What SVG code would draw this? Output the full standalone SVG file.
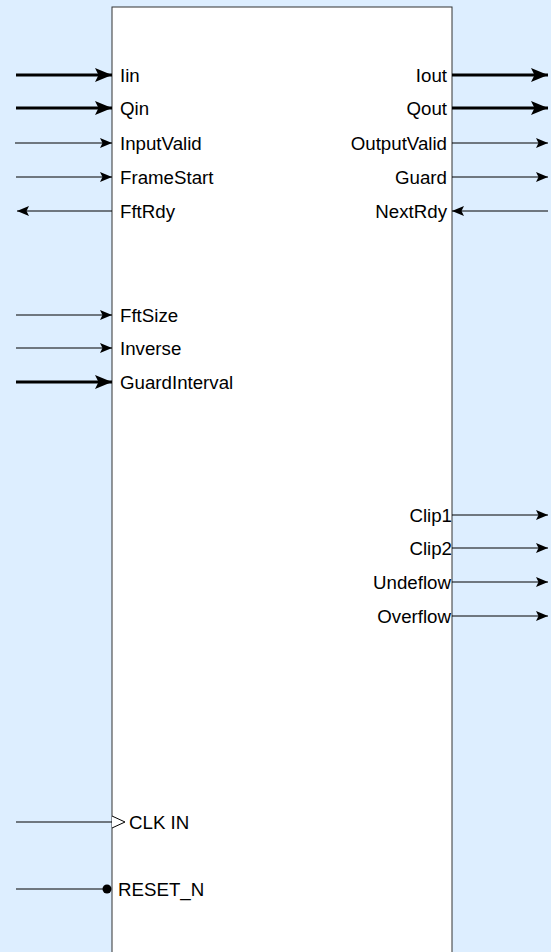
<svg xmlns="http://www.w3.org/2000/svg" width="551" height="952" viewBox="0 0 551 952">
<style>
text{font-family:"Liberation Sans",Arial,sans-serif;font-size:18.7px;fill:#000}
.r{text-anchor:end}
.thin{stroke:#000;stroke-width:1;fill:none}
.thick{stroke:#000;stroke-width:3;fill:none}
</style>
<defs>
<marker id="ah" viewBox="0 0 12 10" refX="12" refY="5" markerWidth="12" markerHeight="10" markerUnits="userSpaceOnUse" orient="auto"><path d="M0,0L12,5L0,10L2.5,5Z" fill="#000"/></marker>
<marker id="ahb" viewBox="0 0 17 14" refX="17" refY="7" markerWidth="17" markerHeight="14" markerUnits="userSpaceOnUse" orient="auto"><path d="M0,0L17,7L0,14L3.5,7Z" fill="#000"/></marker>
</defs>
<rect x="0" y="0" width="551" height="952" fill="#ddeeff"/>
<g id="block">
<rect x="112" y="7" width="340" height="960" fill="#fff" stroke="#333" stroke-width="1"/>
</g>
<g id="connectors">
<line class="thick" x1="16" y1="75" x2="112" y2="75" marker-end="url(#ahb)"/>
<line class="thick" x1="16" y1="108" x2="112" y2="108" marker-end="url(#ahb)"/>
<line class="thin" x1="15" y1="143" x2="112" y2="143" marker-end="url(#ah)"/>
<line class="thin" x1="16" y1="177" x2="112" y2="177" marker-end="url(#ah)"/>
<line class="thin" x1="112" y1="211" x2="17" y2="211" marker-end="url(#ah)"/>
<line class="thin" x1="16" y1="315" x2="112" y2="315" marker-end="url(#ah)"/>
<line class="thin" x1="16" y1="348" x2="112" y2="348" marker-end="url(#ah)"/>
<line class="thick" x1="16" y1="382" x2="112" y2="382" marker-end="url(#ahb)"/>
<line class="thin" x1="16" y1="822" x2="112" y2="822"/>
<line class="thin" x1="16" y1="889" x2="104" y2="889"/>
<line class="thick" x1="452" y1="75" x2="548" y2="75" marker-end="url(#ahb)"/>
<line class="thick" x1="452" y1="108" x2="548" y2="108" marker-end="url(#ahb)"/>
<line class="thin" x1="452" y1="143" x2="548" y2="143" marker-end="url(#ah)"/>
<line class="thin" x1="452" y1="177" x2="548" y2="177" marker-end="url(#ah)"/>
<line class="thin" x1="548" y1="211" x2="452" y2="211" marker-end="url(#ah)"/>
<line class="thin" x1="452" y1="515" x2="548" y2="515" marker-end="url(#ah)"/>
<line class="thin" x1="452" y1="548" x2="548" y2="548" marker-end="url(#ah)"/>
<line class="thin" x1="452" y1="582" x2="548" y2="582" marker-end="url(#ah)"/>
<line class="thin" x1="452" y1="616" x2="548" y2="616" marker-end="url(#ah)"/>
</g>
<g id="ports-left">
<text x="120" y="82">Iin</text>
<text x="120" y="115">Qin</text>
<text x="120" y="150">InputValid</text>
<text x="120" y="184">FrameStart</text>
<text x="120" y="218">FftRdy</text>
<text x="120" y="322">FftSize</text>
<text x="120" y="355">Inverse</text>
<text x="120" y="389">GuardInterval</text>
</g>
<g id="clk">
<path d="M112,816L125,822L112,828" fill="#fff" stroke="#000" stroke-width="1"/>
<text x="129" y="829">CLK IN</text>
</g>
<g id="reset">
<circle cx="107" cy="889" r="4.5" fill="#000"/>
<text x="118" y="896">RESET_N</text>
</g>
<g id="ports-right">
<text class="r" x="447" y="82">Iout</text>
<text class="r" x="447" y="115">Qout</text>
<text class="r" x="447" y="150">OutputValid</text>
<text class="r" x="447" y="184">Guard</text>
<text class="r" x="447" y="218">NextRdy</text>
<text class="r" x="452" y="522">Clip1</text>
<text class="r" x="452" y="555">Clip2</text>
<text class="r" x="451" y="589">Undeflow</text>
<text class="r" x="451" y="623">Overflow</text>
</g>
</svg>
